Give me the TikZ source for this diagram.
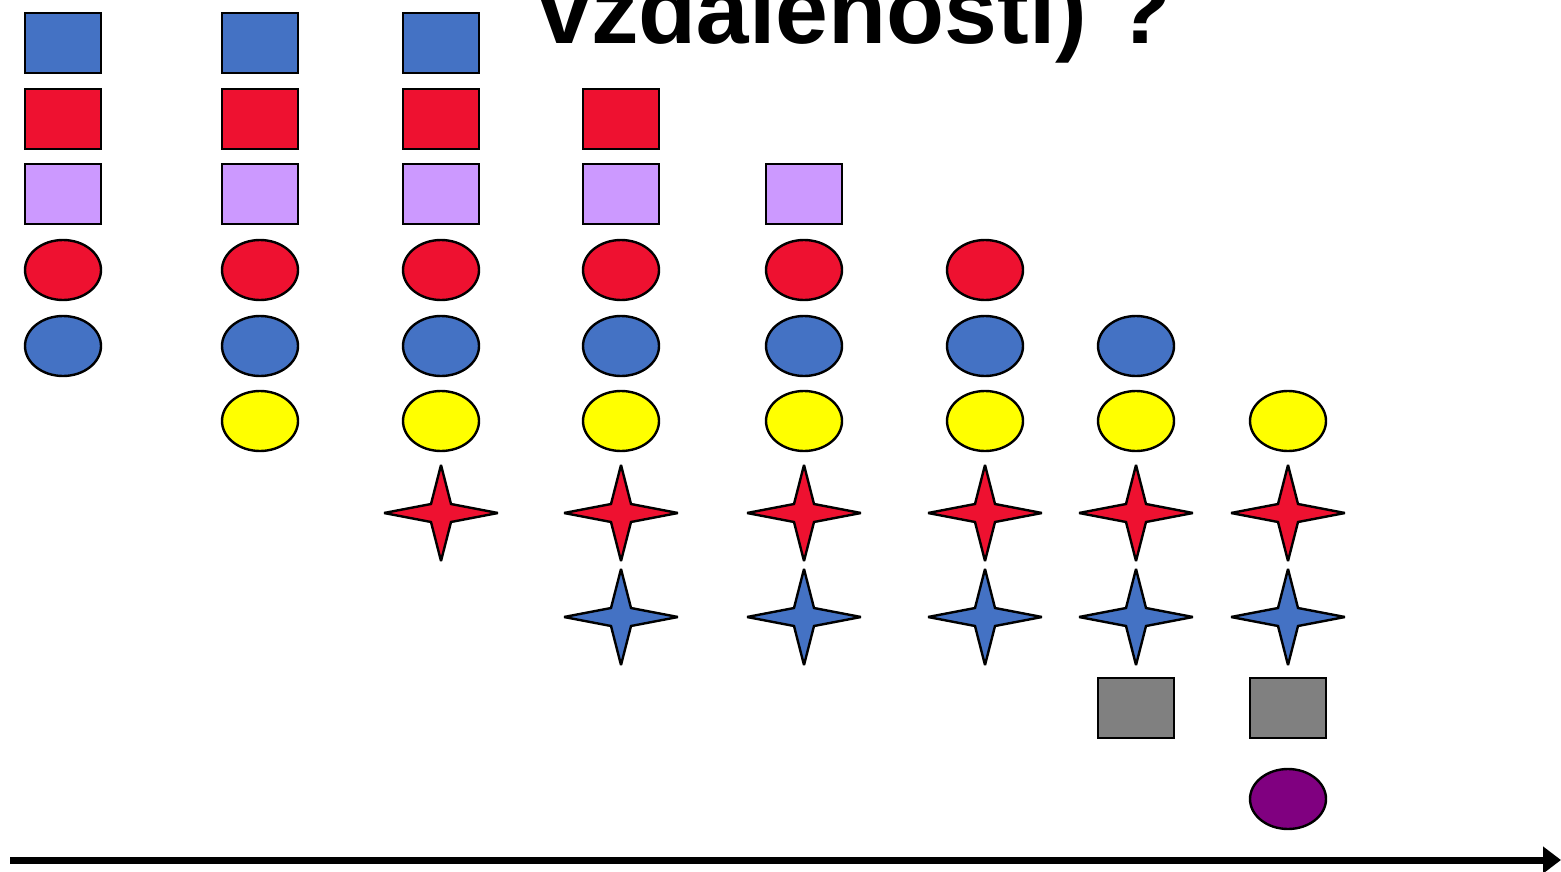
\documentclass[tikz,border=0pt]{standalone}
\usepackage{fontspec}
\setmainfont{Liberation Sans}
\usetikzlibrary{shapes.geometric,arrows.meta,calc}
\definecolor{cblue}{HTML}{4472C4}
\definecolor{cred}{HTML}{EE1130}
\definecolor{clilac}{HTML}{CC99FF}
\definecolor{cyellow}{HTML}{FFFF00}
\definecolor{cgray}{HTML}{808080}
\definecolor{cpurple}{HTML}{800080}
\tikzset{
  shapebase/.style={draw=black, line width=2.4pt, inner sep=0pt, outer sep=0pt},
  sq/.style={shapebase, rectangle, minimum width=76pt, minimum height=60pt},
  ell/.style={shapebase, ellipse, minimum width=76pt, minimum height=60pt},
  starline/.style={draw=black, line width=2.4pt, line join=miter, miter limit=4},
  axis/.style={line width=7pt, -{Triangle[length=18pt,width=26pt]}},
}
% four-pointed star: #1 name, #2 x, #3 y, #4 fill colour
\newcommand\fourstar[4]{%
  \coordinate (#1) at (#2,#3);
  \filldraw[starline, fill=#4] ($(#1)+(57,0)$) -- ($(#1)+(10,9)$) -- ($(#1)+(0,48)$) -- ($(#1)+(-10,9)$)
    -- ($(#1)+(-57,0)$) -- ($(#1)+(-10,-9)$) -- ($(#1)+(0,-48)$) -- ($(#1)+(10,-9)$) -- cycle;}
\begin{document}
\begin{tikzpicture}[x=1pt,y=-1pt]
\useasboundingbox (0,0) rectangle (1561,872);
\clip (0,0) rectangle (1561,872);
\fill[white] (0,0) rectangle (1561,872);
% title (runs past the top edge)
\node[anchor=base west, inner sep=0pt, font=\fontsize{95}{100}\selectfont\bfseries] (title) at (538,44) {vzdálenosti) ?};
% row positions
\def\rA{43}\def\rB{119}\def\rC{194}\def\rD{270}\def\rE{346}\def\rF{421}\def\rG{513}\def\rH{617}\def\rI{708}\def\rJ{799}
% blue squares
\foreach \x/\n in {63/1,260/2,441/3} \node[sq, fill=cblue] (bs\n) at (\x,\rA) {};
% red squares
\foreach \x/\n in {63/1,260/2,441/3,621/4} \node[sq, fill=cred] (rs\n) at (\x,\rB) {};
% lilac squares
\foreach \x/\n in {63/1,260/2,441/3,621/4,804/5} \node[sq, fill=clilac] (ls\n) at (\x,\rC) {};
% red ellipses
\foreach \x/\n in {63/1,260/2,441/3,621/4,804/5,985/6} \node[ell, fill=cred] (re\n) at (\x,\rD) {};
% blue ellipses
\foreach \x/\n in {63/1,260/2,441/3,621/4,804/5,985/6,1136/7} \node[ell, fill=cblue] (be\n) at (\x,\rE) {};
% yellow ellipses
\foreach \x/\n in {260/2,441/3,621/4,804/5,985/6,1136/7,1288/8} \node[ell, fill=cyellow] (ye\n) at (\x,\rF) {};
% red stars
\foreach \x/\n in {441/3,621/4,804/5,985/6,1136/7,1288/8} {\fourstar{rst\n}{\x}{\rG}{cred}}
% blue stars
\foreach \x/\n in {621/4,804/5,985/6,1136/7,1288/8} {\fourstar{bst\n}{\x}{\rH}{cblue}}
% gray squares
\foreach \x/\n in {1136/7,1288/8} \node[sq, fill=cgray] (gs\n) at (\x,\rI) {};
% purple ellipse
\node[ell, fill=cpurple] (pe8) at (1288,\rJ) {};
% axis
\coordinate (axstart) at (10,860);
\coordinate (axend) at (1561,860);
\draw[axis] (axstart) -- (axend);
\end{tikzpicture}
\end{document}
